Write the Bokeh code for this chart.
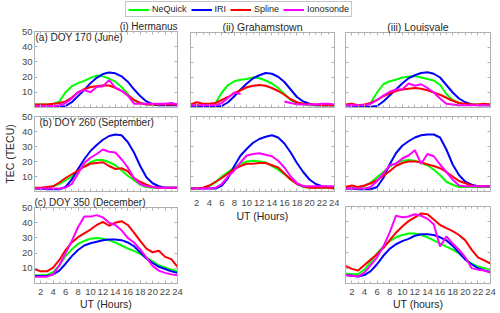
import numpy as np
from bokeh.plotting import figure
from bokeh.models import Range1d, FixedTicker, LinearAxis, Label, Legend, LegendItem
from bokeh.layouts import column, row
from bokeh.embed import file_html
from bokeh.resources import INLINE

nan = float("nan")

# ---------------- data ----------------
hours = list(range(1, 25))
x_ticks = list(range(2, 25, 2))
y_ticks = [10, 20, 30, 40, 50]
series_names = ["NeQuick", "IRI", "Spline", "Ionosonde"]
series_colors = ["#00ff00", "#0000ff", "#ff0000", "#ff00ff"]
station_titles = ["(i) Hermanus", "(ii) Grahamstown", "(iii) Louisvale"]
season_labels = ["(a) DOY 170 (June)", "(b) DOY 260 (September)", "(c) DOY 350 (December)"]

# (a) June
her_jun_neq = [2, 2, 2, 2, 4, 10, 14, 16, 17.5, 19.5, 21, 20.5, 19, 17, 13.5, 9, 4.5, 3, 2, 2, 2, 2, 2, 2]
her_jun_iri = [1.5, 1.2, 1, 0.8, 0.5, 1, 3.5, 7.5, 11.5, 16, 19.5, 22, 23, 22.5, 20.5, 17, 12, 7.5, 4, 2.2, 1.5, 1.5, 1.5, 1.5]
her_jun_spl = [2, 2, 2, 2.5, 3, 4, 6.5, 10, 12, 13.5, 14, 14.5, 14.5, 13, 11, 8, 5, 3, 2, 2, 2, 2, 2, 2]
her_jun_ion = [1, 1, 1, 1, 1.5, 3, 6, 10, 11.5, 10, 13.5, 14, 18, 13, 11, 8, 2.5, 2.5, 2.5, 2.5, 2.5, 2.5, 3, 2]

gra_jun_neq = [1.5, 1.5, 1.5, 1.5, 3, 10, 15, 17.5, 18.5, 19, 20, 19.5, 18, 16, 13, 9, 5, 3, 2, 1.5, 1.5, 1.5, 1.5, 1.5]
gra_jun_iri = [1.2, 1, 1, 0.8, 0.7, 1, 3.5, 7.5, 12, 16, 19.5, 21.5, 23, 22.5, 20.5, 17, 12, 7, 4, 2.5, 1.5, 1.5, 1.5, 1.5]
gra_jun_spl = [2, 3.5, 2.5, 2.5, 3, 5, 7, 9.5, 11.5, 13.5, 14.5, 15, 14.5, 13, 11, 8.5, 5.5, 3.5, 2.5, 2, 2, 1.5, 1.5, 1.5]
gra_jun_ion = [1.5, 1.5, 1.5, 1.5, 1.5, 3, 6.5, 10, 9, nan, nan, nan, nan, nan, nan, 4, 3, 2.2, 2, 2, 2, 2.5, 2.5, 2]

lou_jun_neq = [1.5, 1.5, 1.5, 1.5, 3, 10, 15.5, 17.5, 18.5, 20, 20.5, 21, 20, 19, 18, 15, 9, 5, 3, 2, 2, 2, 2, 2]
lou_jun_iri = [1.5, 1.2, 1, 0.8, 0.5, 1, 4, 8, 12, 16, 19.5, 21.5, 23, 23.5, 22.5, 20, 15, 10, 6, 3.5, 2, 1.5, 1.5, 1.5]
lou_jun_spl = [2, 2.5, 1.5, 2, 3, 5, 7.5, 9.5, 11, 12, 12.5, 13, 12.5, 11.5, 10, 8.5, 6.5, 4.5, 3, 2.5, 2, 2, 2.5, 2]
lou_jun_ion = [1.5, 1.5, 1.5, 1.5, 2.5, 5, 8, 10.5, 12, 12, 16, 14.5, 15.5, 13, 10, 6, 2.5, 2, 1.5, 1.5, 1.5, 1.5, 1.5, 1.5]

# (b) September
her_sep_neq = [2, 2, 2.5, 3.5, 5, 7.5, 10, 13.5, 17, 19.5, 21, 21, 19.5, 17.5, 14, 10.5, 7.5, 4.5, 3, 2.5, 2.5, 2.5, 2.5, 2.5]
her_sep_iri = [2, 2, 1.5, 1.5, 1.5, 3, 8, 15, 21.5, 27, 31, 34.5, 37, 38, 37.5, 33, 26, 17, 9.5, 5.5, 3.5, 2.5, 2.5, 2.5]
her_sep_spl = [2.5, 2.5, 3, 3.5, 6, 9, 11.5, 14, 16.5, 18.5, 19, 19.5, 17, 15, 15.5, 13.5, 9, 6.5, 4.5, 3, 2.5, 2.5, 2.5, 2.5]
her_sep_ion = [2, 2, 2, 2, 2, 2.5, 5, 12, 19, 22.5, 25, 28, 26.5, 26, 21.5, 16, 9, 5, 3.5, 3, 2.5, 2.5, 2.5, 2.5]

gra_sep_neq = [2, 2, 2.5, 3.5, 6, 10, 13, 16, 18.5, 20, 20.5, 20, 19.5, 17, 14.5, 11.5, 8, 5, 3, 2.5, 2.5, 2.5, 2.5, 2.5]
gra_sep_iri = [2, 2, 2, 2, 2, 4, 9, 17, 24, 28.5, 32.5, 35, 36.5, 37.5, 36, 32, 26, 19, 13, 8, 5, 3.5, 3, 3]
gra_sep_spl = [2, 2, 2.5, 4, 6.5, 9, 12, 15, 17, 18.5, 18.5, 19, 19, 17.5, 16, 12, 8, 5, 3.5, 2.5, 2.5, 2.5, 2.5, 2]
gra_sep_ion = [2, 2, 2, 2, 2.5, 5, 10, 14, 19.5, 24, 25, 25.5, 24.5, 23.5, 20.5, 16, 10, 5.5, 3.5, 3.5, 3.5, 3.5, 3.5, 3.5]

lou_sep_neq = [2, 2, 2.5, 3.5, 6, 9.5, 13, 16.5, 19, 20.5, 21, 20.5, 19, 17.5, 14.5, 11, 6.5, 4.5, 3, 3, 3, 3, 3, 3]
lou_sep_iri = [2, 2, 1.5, 1.5, 1.5, 3, 9, 18, 25.5, 30.5, 33.5, 36, 37.5, 38, 38, 36, 28, 18, 11, 6.5, 4.5, 3.5, 3.5, 3.5]
lou_sep_spl = [3, 4, 3, 4, 5.5, 7.5, 10.5, 13.5, 17, 19, 20, 20, 19.5, 18, 17, 15.5, 13, 10, 7, 5.5, 4, 3.5, 3.5, 3.5]
lou_sep_ion = [2, 2, 2, 2, 3, 7, 12, 17.5, 18.5, 22, 24, 27.5, 18.5, 25, 23.5, 18, 13, 8, 4, 3.5, 3.5, 3.5, 3.5, 3.5]

# (c) December (no Grahamstown panel)
her_dec_neq = [5.5, 5.5, 5.5, 7.5, 12, 18, 22.5, 26, 28, 29.5, 30, 29.5, 28.5, 27, 25, 23, 21.5, 19.5, 17, 14.5, 12, 10.5, 9, 8]
her_dec_iri = [5, 5, 5, 6, 8.5, 13, 18, 22, 25, 26.5, 27.5, 28.5, 29, 29, 28.5, 27, 24.5, 20.5, 16.5, 13.5, 11, 9.5, 8, 7]
her_dec_spl = [9.5, 8, 8, 10.5, 15.5, 22, 27, 30.5, 33, 35.5, 38.5, 40.5, 38, 40, 41, 38.5, 33.5, 28, 23, 20.5, 21.5, 17.5, 16, 11]
her_dec_ion = [4.5, 4.5, 4.5, 6, 12, 20, 28, 37, 44, 44, 45, 43.5, 40, 38.5, 35, 30, 27, 22.5, 17, 11.5, 8.5, 7, 6, 5.5]

lou_dec_neq = [6.5, 6, 6, 9, 14, 19.5, 24, 27.5, 30, 31.5, 32.5, 32.5, 31.5, 30, 28, 26, 24, 22, 19.5, 16, 13, 11, 10, 9]
lou_dec_iri = [5.5, 5, 4.5, 5.5, 8, 12.5, 18, 22.5, 25.5, 27.5, 29, 31, 32, 32, 31.5, 30, 28, 24.5, 20, 15.5, 12.5, 10, 8.5, 7.5]
lou_dec_spl = [11.5, 9.5, 8.5, 12, 15.5, 19, 23, 28, 33, 37, 40.5, 43, 45.5, 45, 41.5, 38, 36, 34, 31.5, 28, 22, 17, 15, 13]
lou_dec_ion = [5.5, 5, 4.5, 7, 12, 17, 24, 33, 44, 43, 43.5, 45, 44, 42, 38.5, 24, 30.5, 26, 22, 17, 10, 9, 8.5, 7]

# ---------------- style ----------------
FONT = "Liberation Sans"
FRAME = "#b0b0b0"
TEXT = "#262626"
TICKTXT = "#4a4a4a"


def style_axis(ax, ticker, labels, label_size="9.5px", standoff=2):
    ax.ticker = ticker
    ax.axis_line_color = FRAME
    ax.major_tick_line_color = FRAME
    ax.minor_tick_line_color = FRAME
    ax.major_tick_in = 3
    ax.major_tick_out = 0
    ax.minor_tick_in = 2
    ax.minor_tick_out = 0
    if labels:
        ax.major_label_text_font = FONT
        ax.major_label_text_font_size = label_size
        ax.major_label_text_color = TICKTXT
        ax.major_label_standoff = standoff
    else:
        ax.major_label_text_color = None
        ax.major_label_text_font_size = "0px"
        ax.major_label_standoff = 0


def xticker():
    return FixedTicker(ticks=x_ticks, minor_ticks=hours)


def yticker():
    return FixedTicker(ticks=y_ticks)


def make_panel(w, h, left, right, top, bottom, data, xlabels=False, ylabels=False,
               xlabel=None, ylabel=None, xl_standoff=2, xa_standoff=0,
               title=None, title_align="left", title_size="10px", title_offset=0):
    p = figure(width=w, height=h, x_range=Range1d(1, 24), y_range=Range1d(0, 50),
               output_backend="svg", toolbar_location=None, tools="",
               min_border_left=left, min_border_right=right,
               min_border_top=top, min_border_bottom=bottom)
    p.grid.visible = False
    p.outline_line_color = FRAME
    if title:
        p.title.text = title
        p.title.align = title_align
        p.title.text_font = FONT
        p.title.text_font_size = title_size
        p.title.text_font_style = "normal"
        p.title.text_color = TEXT
        p.title.standoff = 0
        p.title.offset = title_offset
    for vals, color in zip(data, series_colors):
        p.line(hours, np.array(vals, dtype=float), line_color=color, line_width=2)
    xa = p.below[0]
    ya = p.left[0]
    style_axis(xa, xticker(), xlabels, standoff=xl_standoff)
    style_axis(ya, yticker(), ylabels, standoff=2)
    if xlabel:
        xa.axis_label = xlabel
        xa.axis_label_text_font = FONT
        xa.axis_label_text_font_size = "10.5px"
        xa.axis_label_text_font_style = "normal"
        xa.axis_label_text_color = TEXT
        xa.axis_label_standoff = xa_standoff
    if ylabel:
        ya.axis_label = ylabel
        ya.axis_label_text_font = FONT
        ya.axis_label_text_font_size = "10.5px"
        ya.axis_label_text_font_style = "normal"
        ya.axis_label_text_color = TEXT
        ya.axis_label_standoff = 3
    top_ax = LinearAxis()
    style_axis(top_ax, xticker(), False)
    p.add_layout(top_ax, "above")
    right_ax = LinearAxis()
    style_axis(right_ax, yticker(), False)
    p.add_layout(right_ax, "right")
    return p


def add_text(p, x, y, text, align="left", baseline="top", size="10px", x_offset=0):
    p.add_layout(Label(x=x, y=y, text=text, text_align=align, text_baseline=baseline,
                       text_font=FONT, text_font_size=size, text_color=TEXT,
                       x_offset=x_offset))


# column geometry (figure width, left border, right border)
C1 = (183, 32, 6)
C2 = (156, 7, 5)
C3 = (159, 6, 8)

# row 1: top 12, frame 77, bottom 4
r1c1 = make_panel(C1[0], 93, C1[1], C1[2], 12, 4,
                  [her_jun_neq, her_jun_iri, her_jun_spl, her_jun_ion], ylabels=True,
                  title=station_titles[0], title_align="right", title_size="10px")
r1c2 = make_panel(C2[0], 93, C2[1], C2[2], 12, 4,
                  [gra_jun_neq, gra_jun_iri, gra_jun_spl, gra_jun_ion],
                  title=station_titles[1], title_align="center", title_size="10.5px")
r1c3 = make_panel(C3[0], 93, C3[1], C3[2], 12, 4,
                  [lou_jun_neq, lou_jun_iri, lou_jun_spl, lou_jun_ion],
                  title=station_titles[2], title_align="center", title_size="10.5px",
                  title_offset=5)
add_text(r1c1, 1, 49.5, season_labels[0], x_offset=1)

# row 2: top 5, frame 75
r2c1 = make_panel(C1[0], 83, C1[1], C1[2], 5, 3,
                  [her_sep_neq, her_sep_iri, her_sep_spl, her_sep_ion], ylabels=True,
                  ylabel="TEC (TECU)")
r2c2 = make_panel(C2[0], 114, C2[1], C2[2], 5, 34,
                  [gra_sep_neq, gra_sep_iri, gra_sep_spl, gra_sep_ion], xlabels=True,
                  xlabel="UT (Hours)", xl_standoff=8, xa_standoff=1)
r2c3 = make_panel(C3[0], 83, C3[1], C3[2], 5, 3,
                  [lou_sep_neq, lou_sep_iri, lou_sep_spl, lou_sep_ion])
add_text(r2c1, 1, 49.5, season_labels[1], x_offset=5)

# row 3: top 12, frame 78, bottom 28
r3c1 = make_panel(C1[0], 118, C1[1], C1[2], 12, 28,
                  [her_dec_neq, her_dec_iri, her_dec_spl, her_dec_ion], xlabels=True,
                  ylabels=True, xlabel="UT (Hours)", xl_standoff=5, xa_standoff=0,
                  title=season_labels[2], title_align="left", title_size="10px")
r3c3 = make_panel(C3[0], 118, C3[1], C3[2], 12, 28,
                  [lou_dec_neq, lou_dec_iri, lou_dec_spl, lou_dec_ion], xlabels=True,
                  xlabel="UT (hours)", xl_standoff=5, xa_standoff=0)

# legend strip (legend glyphs come from hidden copies of the first panel's series)
lg = figure(width=498, height=18, x_range=Range1d(1, 24), y_range=Range1d(0, 50),
            output_backend="svg", toolbar_location=None, tools="", min_border=0,
            x_axis_location=None, y_axis_location=None, outline_line_color=None)
lg.grid.visible = False
items = []
for name, color, vals in zip(series_names, series_colors,
                             [her_jun_neq, her_jun_iri, her_jun_spl, her_jun_ion]):
    r = lg.line(hours, vals, line_color=color, line_width=2, visible=False)
    items.append(LegendItem(label=name, renderers=[r]))
legend = Legend(items=items, orientation="horizontal", location=(125, 1),
                label_text_font=FONT, label_text_font_size="9px", label_text_color=TEXT,
                glyph_width=21, glyph_height=9, label_height=9, label_width=8,
                label_standoff=3, spacing=4, padding=2, margin=0,
                border_line_color="#8c8c8c", border_line_width=1,
                background_fill_color="white")
lg.add_layout(legend, "center")

layout = column(lg, row(column(r1c1, r2c1, r3c1), column(r1c2, r2c2), column(r1c3, r2c3, r3c3)))

open("out.html", "w").write(file_html(layout, INLINE))
